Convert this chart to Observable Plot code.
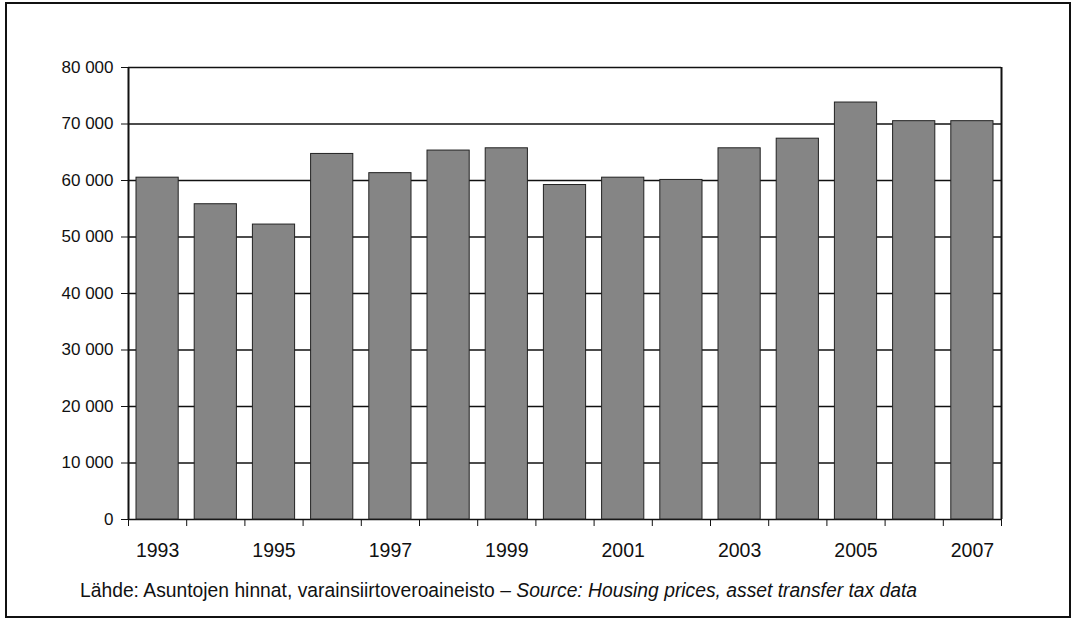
<!DOCTYPE html>
<html>
<head>
<meta charset="utf-8">
<script src="https://cdn.jsdelivr.net/npm/d3@7"></script>
<script src="https://cdn.jsdelivr.net/npm/@observablehq/plot@0.6"></script>
<style>
  html, body { margin: 0; padding: 0; background: #fff; }
  #wrap { position: relative; width: 1079px; height: 622px; font-family: "Liberation Sans", Arial, sans-serif; }
  #frame { position: absolute; left: 5px; top: 2px; width: 1066px; height: 616px; border: 2px solid #111; box-sizing: border-box; pointer-events: none; }
  #caption { position: absolute; left: 80px; top: 580px; font-size: 19.3px; line-height: 22px; color: #111; white-space: nowrap; }
</style>
</head>
<body>
<div id="wrap">
  <div id="chart"></div>
  <div id="frame"></div>
  <div id="caption">Lähde: Asuntojen hinnat, varainsiirtoveroaineisto – <i>Source: Housing prices, asset transfer tax data</i></div>
</div>
<script>
const years = [1993, 1994, 1995, 1996, 1997, 1998, 1999, 2000, 2001, 2002, 2003, 2004, 2005, 2006, 2007];
const prices = [60500, 55800, 52200, 64700, 61300, 65300, 65700, 59200, 60500, 60100, 65700, 67400, 73800, 70500, 70500];
const yTicks = [0, 10000, 20000, 30000, 40000, 50000, 60000, 70000, 80000];
const labelYears = [1993, 1995, 1997, 1999, 2001, 2003, 2005, 2007];

const data = years.map((y, i) => ({year: y, x1: y - 0.5, x2: y + 0.5, value: prices[i]}));
const boundaries = d3.range(years.length + 1).map(i => years[0] - 0.5 + i);
const fmt = v => d3.format(",")(v).replace(/,/g, " ");

const chart = Plot.plot({
  width: 1079,
  height: 622,
  marginLeft: 128,
  marginRight: 78,
  marginTop: 67,
  marginBottom: 103,
  style: {fontFamily: "Liberation Sans, Arial, sans-serif", color: "#111", background: "transparent"},
  x: {domain: [years[0] - 0.5, years[years.length - 1] + 0.5], label: null},
  y: {domain: [0, 80000], label: null},
  marks: [
    Plot.ruleY(yTicks, {stroke: "#111", strokeWidth: 1.5}),
    Plot.rectY(data, {x1: "x1", x2: "x2", y: "value", fill: "#858585", stroke: "#222", strokeWidth: 1, insetLeft: 8, insetRight: 8}),
    Plot.ruleX([boundaries[0], boundaries[boundaries.length - 1]], {stroke: "#111", strokeWidth: 2}),
    Plot.axisY({ticks: yTicks, tickFormat: fmt, tickSize: 7, tickPadding: 8, fontSize: 17, stroke: "#111", label: null}),
    Plot.axisX({ticks: boundaries, tickFormat: () => "", tickSize: 7, stroke: "#111", label: null}),
    Plot.axisX({ticks: labelYears, tickFormat: d => String(d), tickSize: 0, tickPadding: 24, fontSize: 19.5, label: null})
  ]
});
document.getElementById("chart").appendChild(chart);
</script>
</body>
</html>
